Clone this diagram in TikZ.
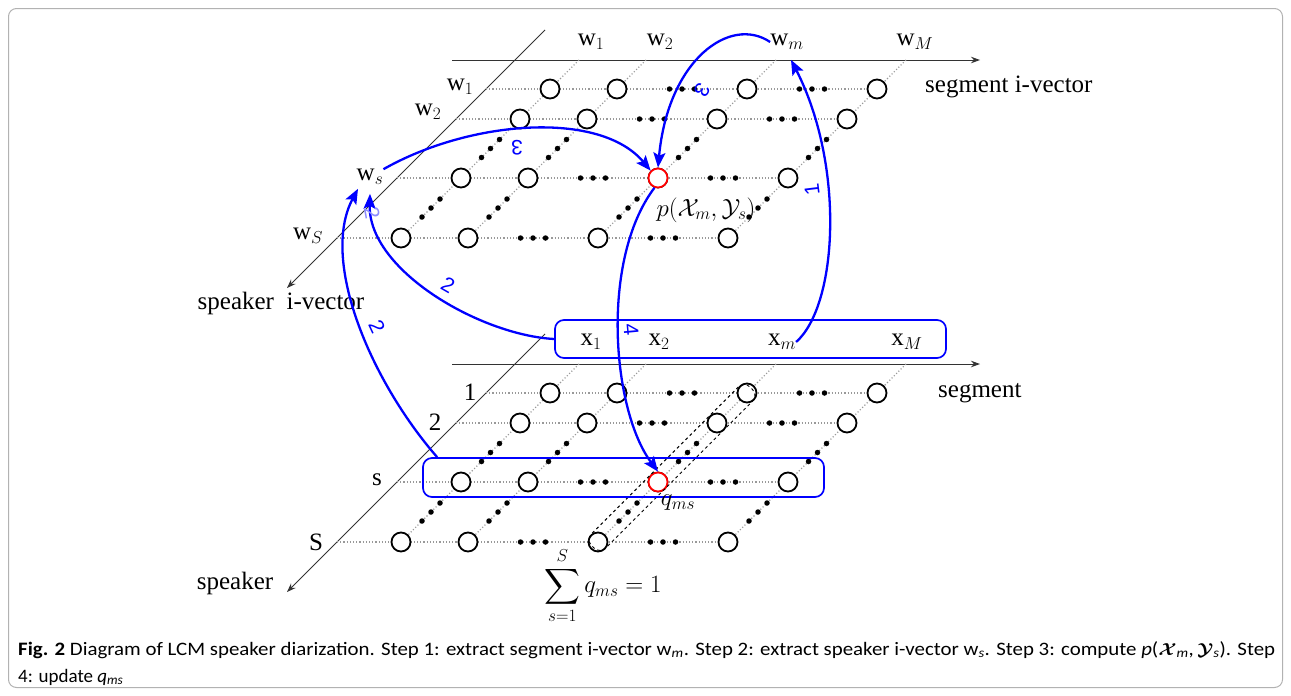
\documentclass[tikz,border=0pt]{standalone}
\usepackage{amsmath}
\usepackage{bm}
\usepackage{graphicx}
\usepackage{fontspec}
\setmainfont{Liberation Serif}
\newfontfamily\capfont{Carlito}
\newfontfamily\numfont{Liberation Sans}
\usetikzlibrary{arrows.meta,calc}
\tikzset{
  gridline/.style={gray!80, line width=1.1pt, dash pattern=on 1.1pt off 2.1pt},
  axisline/.style={black!80, line width=0.9pt, -{Stealth[length=9pt,width=6.5pt]}},
  cnode/.style={circle, draw=black, fill=white, line width=1.8pt, minimum size=19pt, inner sep=0pt},
  rnode/.style={cnode, draw=red},
  edot/.style={circle, fill=black, minimum size=5.5pt, inner sep=0pt},
  lab/.style={font=\fontsize{25}{30}\selectfont, inner sep=0pt},
  barrow/.style={blue, line width=2.3pt, -{Stealth[length=15pt,width=12pt,inset=3pt]}},
  blab/.style={text=blue, font=\numfont\fontsize{21}{24}\selectfont, inner sep=0pt},
  bbox/.style={draw=blue, line width=1.7pt, rounded corners=9pt},
}
\begin{document}
\begin{tikzpicture}[x=1pt,y=-1pt]
\useasboundingbox (0,0) rectangle (1291,696);
\draw[gray!60, line width=1pt, rounded corners=8pt] (8.5,8.5) rectangle (1282.5,687.5);

% ---------- two grids ----------
\foreach \yo/\p in {0/t,304/b}{
  \draw[axisline] (452,60+\yo) -- (980,60+\yo);
  \draw[axisline] (545,30+\yo) -- (287,288+\yo);
  \foreach \r/\d in {1/0,2/30,3/89,4/149}{
    \draw[gridline] (486-\d,89+\d+\yo) -- (877-\d,89+\d+\yo);
  }
  \foreach \c/\cx in {1/550,2/617,3/747,4/877}{
    \draw[gridline] (\cx+29,60+\yo) -- (\cx-149,238+\yo);
  }
  \foreach \r/\d in {1/0,2/30,3/89,4/149}{
    \foreach \c/\cx in {1/550,2/617,3/747,4/877}{
      \node[cnode] (\p-\r-\c) at (\cx-\d,89+\d+\yo) {};
    }
    \foreach \k in {-12.5,0,12.5}{
      \node[edot] at (682-\d+\k,89+\d+\yo) {};
      \node[edot] at (812-\d+\k,89+\d+\yo) {};
    }
  }
  \foreach \cx in {550,617,747,877}{
    \foreach \k in {-9,0,9}{
      \node[edot] at (\cx-59.5-\k,148.5+\k+\yo) {};
      \node[edot] at (\cx-119-\k,208+\k+\yo) {};
    }
  }
}
\node[rnode] (t-3-3) at (658,178) {};
\node[rnode] (b-3-3) at (658,482) {};

% dashed column box
\node[draw=black, dashed, line width=0.9pt, rounded corners=8pt, rotate=45,
      minimum width=224pt, minimum height=20pt, inner sep=0pt] (colbox) at (672,467.5) {};

% ---------- labels top ----------
\node[lab] (cw1) at (591,42) {$\mathrm{w}_1$};
\node[lab] (cw2) at (660,42) {$\mathrm{w}_2$};
\node[lab] (wm)  at (787,42) {$\mathrm{w}_m$};
\node[lab] (cwM) at (915,42) {$\mathrm{w}_M$};
\node[lab] (rw1) at (460,87) {$\mathrm{w}_1$};
\node[lab] (rw2) at (428,112) {$\mathrm{w}_2$};
\node[lab] (ws)  at (370,177) {$\mathrm{w}_s$};
\node[lab] (rwS) at (308,236) {$\mathrm{w}_S$};
\node[lab, anchor=west] (segiv) at (925,87) {segment i-vector};
\node[lab] (spkiv) at (281,303) {speaker\ \ i-vector};
\node[lab] (pxy) at (706,210) {$p(\mathcal{X}_m,\mathcal{Y}_s)$};

% ---------- labels bottom ----------
\node[bbox, minimum width=391pt, minimum height=38pt, inner sep=0pt] (xbox) at (750.5,339) {};
\node[bbox, minimum width=401pt, minimum height=39pt, inner sep=0pt] (sbox) at (623.5,477.5) {};
\node[lab] (x1) at (591,342) {$\mathrm{x}_1$};
\node[lab] (x2) at (659,342) {$\mathrm{x}_2$};
\node[lab] (xm) at (782,342) {$\mathrm{x}_m$};
\node[lab] (xM) at (907,342) {$\mathrm{x}_M$};
\node[lab] (r1) at (470,392) {1};
\node[lab] (r2) at (435,422) {2};
\node[lab] (rs) at (377,480) {s};
\node[lab] (rS) at (316,542) {S};
\node[lab, anchor=west] (seg) at (938,393) {segment};
\node[lab] (spk) at (235,583) {speaker};
\node[lab] (qms) at (678,503) {$q_{ms}$};
\node[inner sep=0pt, font=\fontsize{24}{28}\selectfont] (sum) at (603,586) {$\displaystyle\sum_{s=1}^{S} q_{ms}=1$};

% ---------- blue arrows ----------
\draw[barrow] (xm.east) .. controls (838,305) and (845,165) .. ([shift={(4,10)}]wm.south);
\node[blab, rotate=97] at (812,190) {1};
\draw[barrow] (wm.west) .. controls (730,15) and (668,60) .. (t-3-3.north);
\node[blab, rotate=-120] at (702,90) {3};
\draw[barrow] (ws.north east) .. controls (470,120) and (600,110) .. (t-3-3.north west);
\node[blab, rotate=180] at (517,148) {3};
\draw[barrow] (xbox.west) .. controls (480,335) and (368,270) .. ([yshift=-9pt]ws.south);
\node[blab, rotate=-30] at (448,285) {2};
\node[blab, rotate=-80, text=blue!45] at (372,213) {2};
\draw[barrow] ([xshift=15]sbox.north west) .. controls (370,380) and (320,260) .. ([shift={(-12,4)}]ws.south);
\node[blab, rotate=-65] at (377,327) {2};
\draw[barrow] (t-3-3.-110) .. controls (600,260) and (612,410) .. (b-3-3.north);
\node[blab, rotate=-85] at (631,330) {4};

% ---------- caption ----------
\node[anchor=base west, inner sep=0pt] (cap1) at (18,655) {\resizebox{1257pt}{\height}{\capfont\fontsize{19}{22}\selectfont
  {\bfseries Fig. 2} Diagram of LCM speaker diarization. Step 1: extract segment i-vector w\textsubscript{\textit{m}}. Step 2: extract speaker i-vector w\textsubscript{\textit{s}}. Step 3: compute \textit{p}($\bm{\mathcal{X}}$\textsubscript{\textit{m}},\,$\bm{\mathcal{Y}}$\textsubscript{\textit{s}}). Step}};
\node[anchor=base west, inner sep=0pt, font=\capfont\fontsize{19}{22}\selectfont] (cap2) at (18,682) {4: update \textit{q}\textsubscript{\textit{ms}}};
\end{tikzpicture}
\end{document}
